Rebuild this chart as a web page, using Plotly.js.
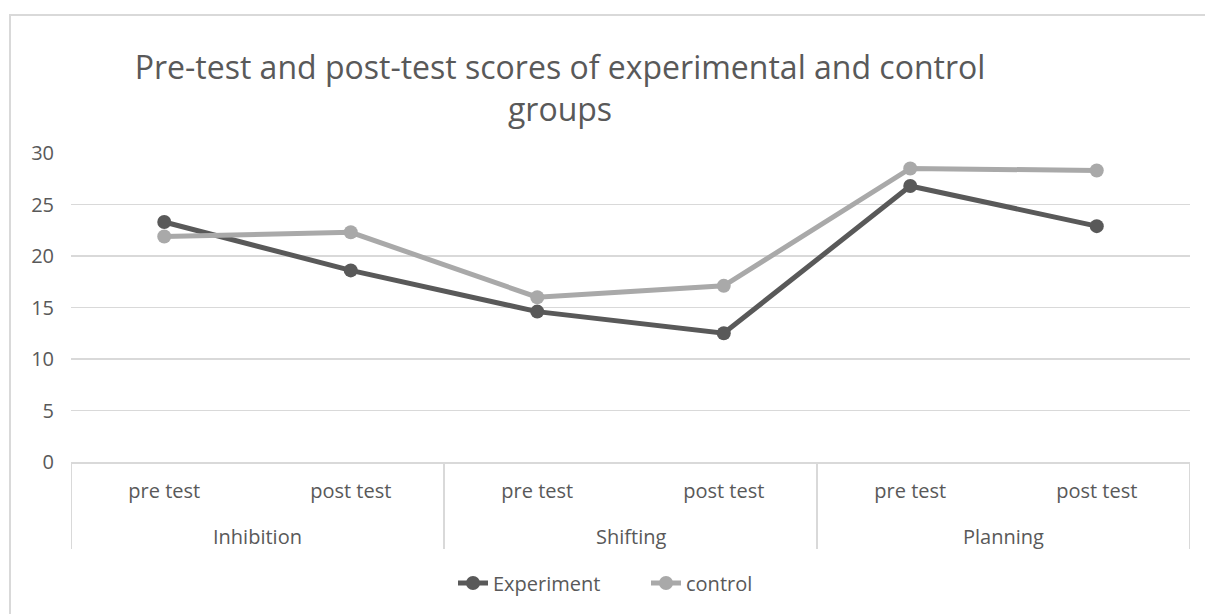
<!DOCTYPE html>
<html>
<head>
<meta charset="utf-8">
<script src="https://cdn.plot.ly/plotly-3.0.1.min.js"></script>
<style>
  html, body { margin: 0; padding: 0; background: #ffffff; overflow: hidden; }
  #chart { width: 1205px; height: 614px; position: absolute; left: 0; top: 0; }
  #frame { position: absolute; left: 9px; top: 14px; width: 1300px; height: 700px;
           border: 2px solid #d9d9d9; box-sizing: border-box; pointer-events: none; }
</style>
</head>
<body>
<div id="chart"></div>
<div id="frame"></div>
<script>
const groups = ["Inhibition", "Inhibition", "Shifting", "Shifting", "Planning", "Planning"];
const phases = ["pre test", "post test", "pre test", "post test", "pre test", "post test"];
const experiment = [23.3, 18.6, 14.6, 12.5, 26.8, 22.9];
const control = [21.9, 22.3, 16.0, 17.1, 28.5, 28.3];
const yTicks = [0, 5, 10, 15, 20, 25, 30];

const fontFamily = '"Open Sans", "Noto Sans", sans-serif';
const textColor = '#595959';
const gridColor = '#d9d9d9';

// category positions derived from the data order
const idx = phases.map((_, i) => i);

// group spans (start / end index of each distinct group)
const groupNames = [];
const groupSpans = {};
groups.forEach((g, i) => {
  if (!(g in groupSpans)) { groupNames.push(g); groupSpans[g] = [i, i]; }
  else groupSpans[g][1] = i;
});

const plotH = 614 - 153 - 152;
const dividerBottom = -(549 - 462) / plotH;
const groupLabelY = -(536 - 462) / plotH;

const shapes = [];
const annotations = [];
groupNames.forEach((g, k) => {
  const [a, b] = groupSpans[g];
  if (k === 0) {
    shapes.push({ type: 'line', xref: 'x', yref: 'paper', x0: a - 0.5, x1: a - 0.5, y0: 0, y1: dividerBottom,
                  line: { color: gridColor, width: 2 } });
  }
  shapes.push({ type: 'line', xref: 'x', yref: 'paper', x0: b + 0.5, x1: b + 0.5, y0: 0, y1: dividerBottom,
                line: { color: gridColor, width: 2 } });
  annotations.push({ xref: 'x', yref: 'paper', x: (a + b) / 2, y: groupLabelY, text: g, showarrow: false,
                     xanchor: 'center', yanchor: 'middle',
                     font: { family: fontFamily, size: 20, color: textColor } });
});

const traces = [
  {
    x: idx, y: experiment, name: 'Experiment', type: 'scatter', mode: 'lines+markers',
    line: { color: '#595959', width: 5 }, marker: { color: '#595959', size: 14 }
  },
  {
    x: idx, y: control, name: 'control', type: 'scatter', mode: 'lines+markers',
    line: { color: '#a9a9a9', width: 5 }, marker: { color: '#a9a9a9', size: 14 }
  }
];

const layout = {
  width: 1205, height: 614,
  margin: { l: 71, r: 15, t: 153, b: 152 },
  paper_bgcolor: 'rgba(0,0,0,0)', plot_bgcolor: 'rgba(0,0,0,0)',
  font: { family: fontFamily, color: textColor, size: 20 },
  title: {
    text: 'Pre-test and post-test scores of experimental and control<br>groups',
    font: { family: fontFamily, size: 32, color: textColor },
    xref: 'container', x: 560 / 1205, xanchor: 'center',
    yref: 'container', y: 1 - 79 / 614, yanchor: 'top'
  },
  xaxis: {
    type: 'linear', range: [-0.5, phases.length - 0.5],
    tickvals: idx, ticktext: phases,
    showline: true, linecolor: gridColor, linewidth: 2,
    showgrid: false, zeroline: false, ticks: '', ticklabelstandoff: 10,
    tickfont: { family: fontFamily, size: 20, color: textColor }
  },
  yaxis: {
    range: [0, 30], tickvals: yTicks, ticktext: yTicks.map(String),
    showgrid: true, gridcolor: gridColor, gridwidth: 1.5,
    zeroline: false, showline: false, ticks: '', ticklabelstandoff: 16,
    tickfont: { family: fontFamily, size: 20, color: textColor }
  },
  shapes: shapes,
  annotations: annotations,
  showlegend: true,
  legend: {
    orientation: 'h', x: 646 / 1205, xref: 'container', xanchor: 'center',
    y: 1 - 583 / 614, yref: 'container', yanchor: 'middle',
    entrywidth: 148,
    font: { family: fontFamily, size: 20, color: textColor }
  }
};

Plotly.newPlot('chart', traces, layout, { displayModeBar: false, staticPlot: true });
</script>
</body>
</html>
